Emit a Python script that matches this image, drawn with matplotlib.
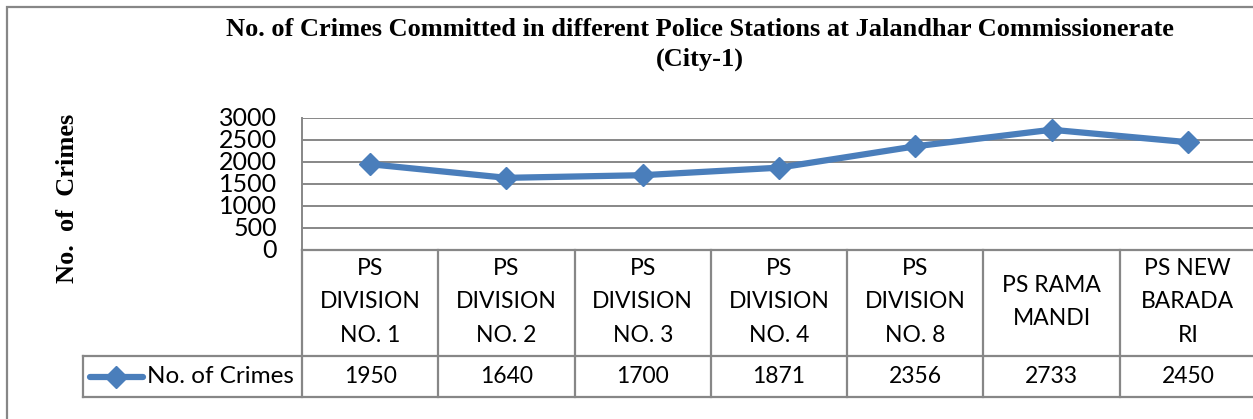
import matplotlib
matplotlib.use("Agg")
import matplotlib.pyplot as plt
from matplotlib.patches import Rectangle
from matplotlib.lines import Line2D
import numpy as np

# data
stations = ["PS\nDIVISION\nNO. 1", "PS\nDIVISION\nNO. 2", "PS\nDIVISION\nNO. 3",
            "PS\nDIVISION\nNO. 4", "PS\nDIVISION\nNO. 8", "PS RAMA\nMANDI",
            "PS NEW\nBARADA\nRI"]
crimes = [1950, 1640, 1700, 1871, 2356, 2733, 2450]
series_name = "No. of Crimes"
y_ticks = [0, 500, 1000, 1500, 2000, 2500, 3000]

W, H = 1253, 419
LINE_C = "#4A7EBB"
GRID_C = "#878787"
sans = ["Lato", "DejaVu Sans"]
serif = ["Liberation Serif", "DejaVu Serif"]
TXT = 16.5

fig = plt.figure(figsize=(W / 100, H / 100), dpi=100)

def fx(px):
    return px / W

def fy(py):
    return 1 - py / H

# outer chart border
fig.patches.append(Rectangle((fx(7), fy(430)), fx(1260) - fx(7), fy(7) - fy(430),
                             transform=fig.transFigure, fill=False,
                             edgecolor=GRID_C, linewidth=1.6))

# plot area
left, right, top, bot = 302, 1256, 118, 250
ax = fig.add_axes([fx(left), fy(bot), fx(right) - fx(left), fy(top) - fy(bot)])
n = len(crimes)
x = np.arange(n) + 0.5
ax.plot(x, crimes, color=LINE_C, linewidth=4.5, marker="D", markersize=11,
        solid_joinstyle="round", clip_on=False, zorder=3)
ax.set_xlim(0, n)
ax.set_ylim(0, 3000)
ax.set_yticks(y_ticks)
ax.set_yticklabels([str(t) for t in y_ticks], family=sans, fontsize=18)
ax.tick_params(axis="y", length=0, pad=18)
ax.set_xticks([])
for yv in y_ticks:
    ax.axhline(yv, color=GRID_C, linewidth=1.4, zorder=1)
for s in ax.spines.values():
    s.set_visible(False)
ax.spines["left"].set_visible(True)
ax.spines["left"].set_color(GRID_C)
ax.spines["left"].set_linewidth(1.4)
for lbl in ax.get_yticklabels():
    lbl.set_verticalalignment("center")

# data table below the plot
tl, tb = 83, 397
tab = fig.add_axes([fx(tl), fy(tb), fx(right) - fx(tl), fy(bot) - fy(tb)])
unit = (right - left) / n
x0 = -(left - tl) / unit
tab.set_xlim(x0, n)
tab.set_ylim(0, tb - bot)
tab.axis("off")
val_h = 41
hdr_top = tb - bot
kw = dict(color=GRID_C, linewidth=1.6, clip_on=False)
tab.plot([0, n], [hdr_top, hdr_top], **kw)
tab.plot([x0, n], [val_h, val_h], **kw)
tab.plot([x0, n], [0, 0], **kw)
tab.plot([x0, x0], [0, val_h], **kw)
for i in range(n + 1):
    tab.plot([i, i], [0, hdr_top], **kw)
for i, (name, v) in enumerate(zip(stations, crimes)):
    tab.text(i + 0.5, (hdr_top + val_h) / 2 + 1, name, ha="center", va="center",
             family=sans, fontsize=TXT, linespacing=1.75)
    tab.text(i + 0.5, val_h / 2, str(v), ha="center", va="center",
             family=sans, fontsize=TXT)

# legend key inside the table
lx0 = x0 + 7 / unit
lx1 = x0 + 60 / unit
tab.add_line(Line2D([lx0, lx1], [val_h / 2, val_h / 2], color=LINE_C, linewidth=4.5,
                    solid_capstyle="round"))
tab.plot([(lx0 + lx1) / 2], [val_h / 2], marker="D", markersize=11, color=LINE_C)
tab.text(x0 + 64 / unit, val_h / 2, series_name, ha="left", va="center",
         family=sans, fontsize=17.5)

# titles
fig.text(fx(700), fy(29), "No. of Crimes Committed in different Police Stations at Jalandhar Commissionerate",
         ha="center", va="center", family=serif, fontweight="bold", fontsize=19)
fig.text(fx(700), fy(59), "(City-1)", ha="center", va="center", family=serif,
         fontweight="bold", fontsize=19)
fig.text(fx(68), fy(198), "No.  of  Crimes", rotation=90, ha="center", va="center",
         family=serif, fontweight="bold", fontsize=19)

fig.savefig("out.png", dpi=100)
